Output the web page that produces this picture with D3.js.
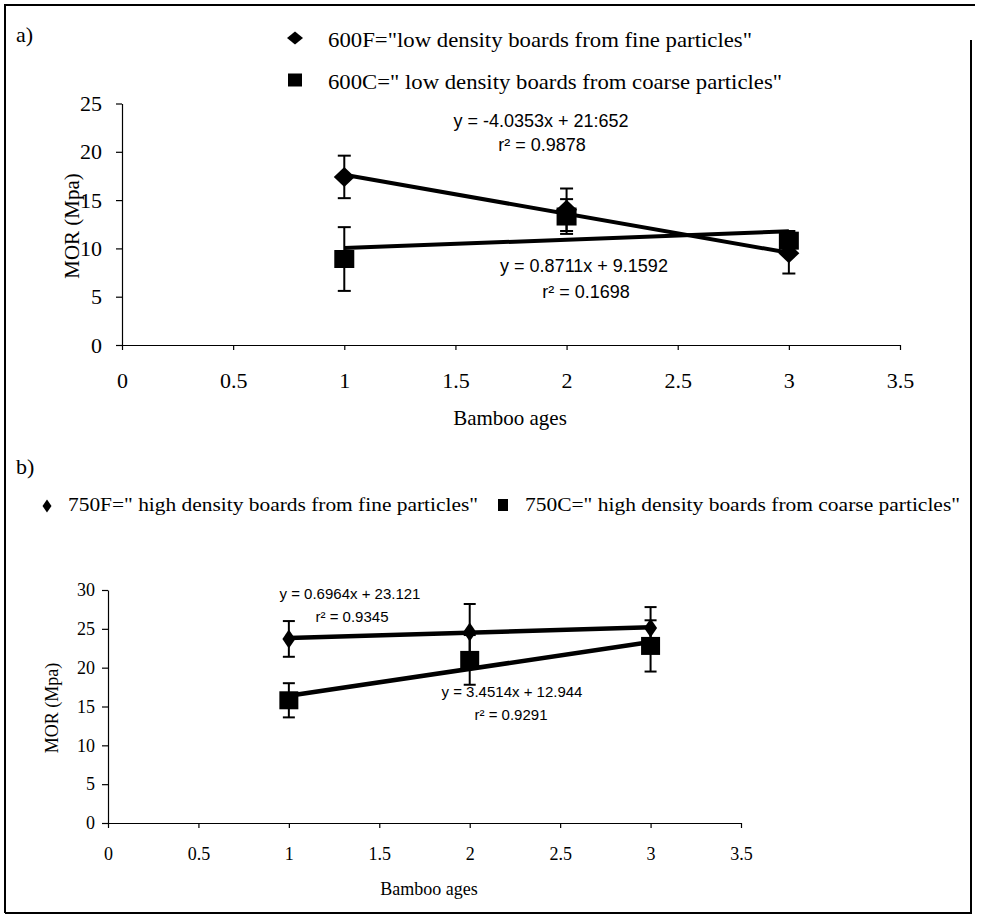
<!DOCTYPE html>
<html>
<head>
<meta charset="utf-8">
<script src="https://cdn.jsdelivr.net/npm/d3@7"></script>
<style>
  body { margin: 0; background: #fff; }
  svg { display: block; }
</style>
</head>
<body>
<div id="chart"></div>
<script>
// values
const ages = [1, 2, 3];
const xTicks = [0, 0.5, 1, 1.5, 2, 2.5, 3, 3.5];
const yTicksA = [0, 5, 10, 15, 20, 25];
const yTicksB = [0, 5, 10, 15, 20, 25, 30];

const mor600F = [17.4, 14.0, 9.5];
const sd600F = [2.2, 2.2, 2.1];
const mor600C = [8.9, 13.3, 10.8];
const sd600C = [3.3, 1.8, 1.0];
const mor750F = [23.7, 24.6, 25.1];
const sd750F = [2.3, 3.6, 2.7];
const mor750C = [15.8, 21.0, 22.8];
const sd750C = [2.2, 3.2, 3.3];

// linear trendlines [slope, intercept]
const fit600F = [-4.0353, 21.652];
const fit600C = [0.8711, 9.1592];
const fit750F = [0.6964, 23.121];
const fit750C = [3.4514, 12.944];

const eq600F = ["y = -4.0353x + 21:652", "r² = 0.9878"];
const eq600C = ["y = 0.8711x + 9.1592", "r² = 0.1698"];
const eq750F = ["y = 0.6964x + 23.121", "r² = 0.9345"];
const eq750C = ["y = 3.4514x + 12.944", "r² = 0.9291"];

const legendA = ["600F=\"low density boards from fine particles\"", "600C=\" low density boards from coarse particles\""];
const legendB = ["750F=\" high density boards from fine particles\"", "750C=\" high density boards from coarse particles\""];

const serif = "'Liberation Serif', 'Times New Roman', serif";
const sans = "'Liberation Sans', Arial, sans-serif";

const svg = d3.select("#chart").append("svg")
    .attr("width", 986)
    .attr("height", 915);

// scanned frame
const frame = svg.append("g").attr("stroke", "#000").attr("stroke-width", 2).attr("fill", "none");
frame.append("path").attr("d", "M5,913 L5,5 L975,5");
frame.append("path").attr("d", "M971,40 L971,913 L5,913");

const diamond = (w, h) => `M0,${-h/2}L${w/2},0L0,${h/2}L${-w/2},0Z`;

function drawPanel(cfg) {
  const x = d3.scaleLinear().domain([0, 3.5]).range(cfg.xRange);
  const y = d3.scaleLinear().domain([0, cfg.yMax]).range(cfg.yRange);
  const g = svg.append("g");

  // x axis
  const xa = g.append("g")
      .attr("transform", "translate(0," + y(0) + ")")
      .call(d3.axisBottom(x).tickValues(xTicks).tickFormat(d3.format(""))
        .tickSize(5).tickSizeOuter(0).tickPadding(cfg.xPad));
  xa.attr("font-family", serif).attr("font-size", cfg.tickFont);
  xa.selectAll("line, path").attr("stroke", "#000").attr("stroke-width", 1.2);

  // y axis
  const ya = g.append("g")
      .attr("transform", "translate(" + x(0) + ",0)")
      .call(d3.axisLeft(y).tickValues(cfg.yTicks).tickFormat(d3.format(""))
        .tickSize(6).tickSizeOuter(0).tickPadding(cfg.yPad));
  ya.attr("font-family", serif).attr("font-size", cfg.tickFont);
  ya.selectAll("line, path").attr("stroke", "#000").attr("stroke-width", 1.2);

  // axis titles
  g.append("text")
      .attr("x", cfg.xTitle[0]).attr("y", cfg.xTitle[1])
      .attr("text-anchor", "middle")
      .attr("font-family", serif).attr("font-size", cfg.titleFont)
      .text("Bamboo ages");
  g.append("text")
      .attr("transform", "translate(" + cfg.yTitle[0] + "," + cfg.yTitle[1] + ") rotate(-90)")
      .attr("text-anchor", "middle")
      .attr("font-family", serif).attr("font-size", cfg.titleFont)
      .text("MOR (Mpa)");

  cfg.series.forEach(s => {
    const pts = ages.map((a, i) => ({a: a, v: s.mor[i], e: s.sd[i]}));

    // error bars
    const eb = g.append("g").attr("stroke", "#000").attr("stroke-width", 2);
    pts.forEach(p => {
      eb.append("line")
          .attr("x1", x(p.a)).attr("x2", x(p.a))
          .attr("y1", y(p.v - p.e)).attr("y2", y(p.v + p.e));
      [p.v - p.e, p.v + p.e].forEach(v => {
        eb.append("line")
            .attr("x1", x(p.a) - cfg.cap / 2).attr("x2", x(p.a) + cfg.cap / 2)
            .attr("y1", y(v)).attr("y2", y(v));
      });
    });

    // markers
    g.append("g").selectAll("path")
      .data(pts)
      .enter().append("path")
        .attr("transform", d => "translate(" + x(d.a) + "," + y(d.v) + ")")
        .attr("d", s.shape === "diamond"
          ? diamond(cfg.dia[0], cfg.dia[1])
          : `M${-cfg.sq[0]/2},${-cfg.sq[1]/2}h${cfg.sq[0]}v${cfg.sq[1]}h${-cfg.sq[0]}Z`)
        .attr("fill", "#000");

    // trendline over ages 1..3
    const x0 = d3.min(ages), x1 = d3.max(ages);
    g.append("line")
        .attr("x1", x(x0)).attr("y1", y(s.fit[0] * x0 + s.fit[1]))
        .attr("x2", x(x1)).attr("y2", y(s.fit[0] * x1 + s.fit[1]))
        .attr("stroke", "#000").attr("stroke-width", cfg.trendWidth);

    // equation label
    const t = g.append("text")
        .attr("text-anchor", "middle")
        .attr("font-family", sans).attr("font-size", cfg.eqFont);
    s.eq.forEach((line, i) => {
      t.append("tspan")
          .attr("x", s.eqPos[i][0]).attr("y", s.eqPos[i][1])
          .text(line);
    });
  });

  // panel letter
  svg.append("text")
      .attr("x", 16).attr("y", cfg.letterY)
      .attr("font-family", serif).attr("font-size", 22)
      .text(cfg.letter);

  // legend
  cfg.legend.forEach((lg, i) => {
    svg.append("path")
        .attr("transform", "translate(" + lg.mx + "," + lg.my + ")")
        .attr("fill", "#000")
        .attr("d", i === 0
          ? diamond(lg.w, lg.h)
          : `M${-lg.w/2},${-lg.h/2}h${lg.w}v${lg.h}h${-lg.w}Z`);
    svg.append("text")
        .attr("x", lg.tx).attr("y", lg.ty)
        .attr("font-family", serif).attr("font-size", cfg.legendFont)
        .attr("textLength", lg.len).attr("lengthAdjust", "spacingAndGlyphs")
        .text(lg.label);
  });
}

drawPanel({
  letter: "a)", letterY: 42,
  xRange: [122, 900], yRange: [345, 103.5], yMax: 25, yTicks: yTicksA,
  xPad: 22, yPad: 14, tickFont: 22, titleFont: 21,
  xTitle: [510, 425], yTitle: [79, 226],
  cap: 13, dia: [21, 20], sq: [20, 18], trendWidth: 4, eqFont: 18,
  legendFont: 22,
  legend: [
    {label: legendA[0], mx: 295, my: 38, w: 16, h: 13, tx: 328, ty: 47, len: 424},
    {label: legendA[1], mx: 295, my: 80, w: 14, h: 13, tx: 328, ty: 89, len: 454}
  ],
  series: [
    {mor: mor600F, sd: sd600F, fit: fit600F, shape: "diamond", eq: eq600F,
     eqPos: [[541, 127], [542, 151]]},
    {mor: mor600C, sd: sd600C, fit: fit600C, shape: "square", eq: eq600C,
     eqPos: [[584, 272], [586, 298]]}
  ]
});

drawPanel({
  letter: "b)", letterY: 474,
  xRange: [108, 741], yRange: [823, 590], yMax: 30, yTicks: yTicksB,
  xPad: 19, yPad: 7, tickFont: 18, titleFont: 18,
  xTitle: [429, 895], yTitle: [58, 708],
  cap: 12, dia: [13, 19], sq: [19, 18], trendWidth: 4.5, eqFont: 15,
  legendFont: 18,
  legend: [
    {label: legendB[0], mx: 47, my: 506, w: 9, h: 13, tx: 68, ty: 511, len: 410},
    {label: legendB[1], mx: 503, my: 505, w: 10, h: 12, tx: 525, ty: 511, len: 435}
  ],
  series: [
    {mor: mor750F, sd: sd750F, fit: fit750F, shape: "diamond", eq: eq750F,
     eqPos: [[350, 599], [352, 622]]},
    {mor: mor750C, sd: sd750C, fit: fit750C, shape: "square", eq: eq750C,
     eqPos: [[512, 697], [511, 720]]}
  ]
});
</script>
</body>
</html>
